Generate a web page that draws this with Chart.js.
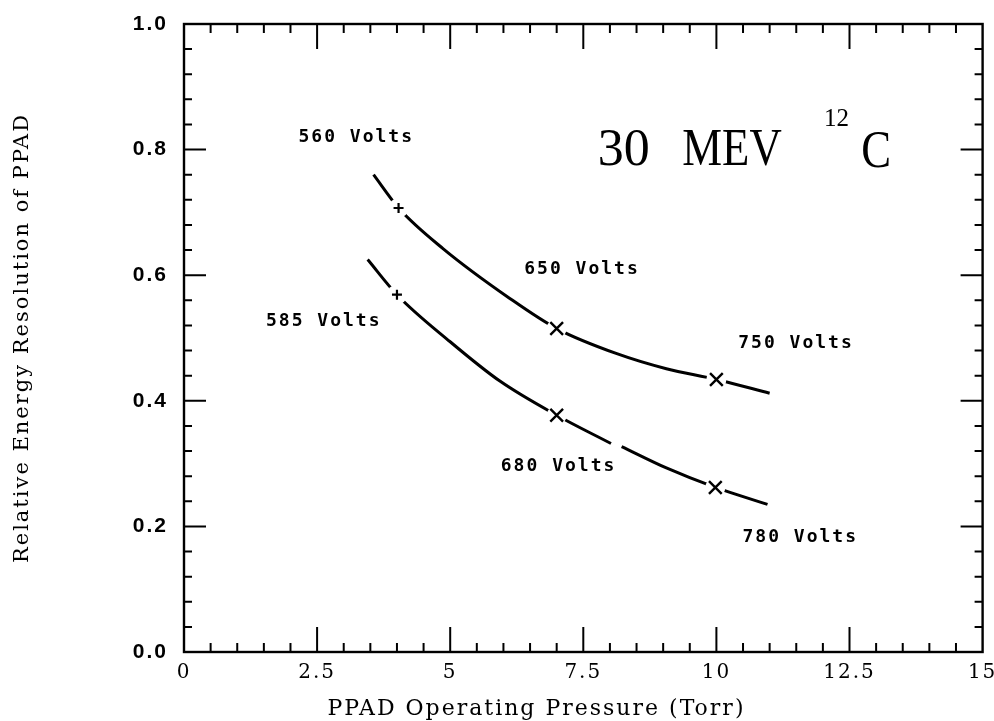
<!DOCTYPE html>
<html>
<head>
<meta charset="utf-8">
<script src="https://cdn.jsdelivr.net/npm/chart.js@4.4.0/dist/chart.umd.min.js"></script>
<style>
  html, body { margin: 0; padding: 0; background: #fff; }
</style>
</head>
<body>
<canvas id="myChart" width="994" height="721"></canvas>
<script>
// DATA ----------------------------------------
// upper curve (560 -> 650 -> 750 volts)
const upperX = [3.56, 4.03, 4.87, 6.12, 7.0, 8.13, 9.06, 10.0, 11.0];
const upperY = [0.760, 0.707, 0.642, 0.563, 0.515, 0.475, 0.451, 0.434, 0.412];
// lower curve (585 -> 680 -> 780 volts), null = break in the pen line
const lowerX = [3.45, 4.0, 5.0, 5.94, 7.0, 8.02, 8.12, 8.22, 9.06, 9.98, 10.96];
const lowerY = [0.625, 0.569, 0.494, 0.431, 0.377, 0.332, null, 0.327, 0.293, 0.262, 0.235];

// measured points
const plusX = [4.03, 4.0];             // "+" marks
const plusY = [0.707, 0.569];
const crossX = [7.0, 10.0, 7.0, 9.98]; // "x" marks
const crossY = [0.515, 0.434, 0.377, 0.262];

// voltage notes
const noteText = ['560 Volts', '585 Volts', '650 Volts', '750 Volts', '680 Volts', '780 Volts'];
const noteX = [2.15, 1.54, 6.39, 10.41, 5.95, 10.49];
const noteY = [0.820, 0.526, 0.610, 0.492, 0.296, 0.183];

const xTicks = [0, 2.5, 5, 7.5, 10, 12.5, 15];
const yTicks = [0.0, 0.2, 0.4, 0.6, 0.8, 1.0];
const xTitle = 'PPAD Operating Pressure (Torr)';
const yTitle = 'Relative Energy Resolution of PPAD';

function pts(xs, ys) {
    const out = [];
    for (var i = 0; i < xs.length; i++) out.push({x: xs[i], y: ys[i]});
    return out;
}
const allMarkX = plusX.concat(crossX);
const allMarkY = plusY.concat(crossY);

// PLUGINS ----------------------------------------
// wider plotter-style spacing for the axis texts, off again for the data layer
const spacingPlugin = {
    id: 'spacing',
    beforeDraw(chart) { chart.ctx.letterSpacing = '2px'; },
    beforeDatasetsDraw(chart) { chart.ctx.letterSpacing = '0px'; }
};

// frame with inward ticks on all four sides, plus the x title (sits left of centre)
const framePlugin = {
    id: 'frame',
    afterDraw(chart) {
        const c = chart.ctx, a = chart.chartArea;
        const xs = chart.scales.x, ys = chart.scales.y;
        c.save();
        c.strokeStyle = '#000';
        c.lineWidth = 2.4;
        c.strokeRect(a.left, a.top, a.right - a.left, a.bottom - a.top);
        c.lineWidth = 2;
        c.beginPath();
        for (var i = 1; i < 30; i++) {
            const px = xs.getPixelForValue(i * 0.5);
            const len = (i % 5 === 0) ? 25 : 9;
            c.moveTo(px, a.bottom); c.lineTo(px, a.bottom - len);
            c.moveTo(px, a.top); c.lineTo(px, a.top + len);
        }
        for (var j = 1; j < 25; j++) {
            const py = ys.getPixelForValue(j * 0.04);
            const len = (j % 5 === 0) ? 22 : 8;
            c.moveTo(a.left, py); c.lineTo(a.left + len, py);
            c.moveTo(a.right, py); c.lineTo(a.right - len, py);
        }
        c.stroke();

        c.fillStyle = '#000';
        c.font = '22px "DejaVu Serif"';
        c.letterSpacing = '2px';
        c.textAlign = 'center';
        c.textBaseline = 'middle';
        c.fillText(xTitle, xs.getPixelForValue(6.62), xs.bottom - 12);
        c.restore();
    }
};

// voltage notes and the beam label
const notePlugin = {
    id: 'notes',
    afterDatasetsDraw(chart) {
        const c = chart.ctx;
        const xs = chart.scales.x, ys = chart.scales.y;
        c.save();
        c.fillStyle = '#000';
        c.textBaseline = 'middle';
        c.textAlign = 'left';
        c.font = 'bold 18px "DejaVu Sans Mono"';
        c.letterSpacing = '2px';
        for (var i = 0; i < noteText.length; i++) {
            c.fillText(noteText[i], xs.getPixelForValue(noteX[i]), ys.getPixelForValue(noteY[i]));
        }
        c.textBaseline = 'alphabetic';
        c.letterSpacing = '0px';
        c.font = '52px "Liberation Serif"';
        c.fillText('30', xs.getPixelForValue(7.77), ys.getPixelForValue(0.775));
        // narrower capitals, as in the plotter font
        const drawNarrow = (txt, xv, yv) => {
            c.save();
            c.translate(xs.getPixelForValue(xv), ys.getPixelForValue(yv));
            c.scale(0.86, 1);
            c.fillText(txt, 0, 0);
            c.restore();
        };
        drawNarrow('MEV', 9.36, 0.775);
        drawNarrow('C', 12.72, 0.772);
        c.font = '25px "Liberation Serif"';
        c.fillText('12', xs.getPixelForValue(12.02), ys.getPixelForValue(0.838));
        c.restore();
    }
};

// CHART ----------------------------------------
const ctx = document.getElementById('myChart');
const config = {
    type: 'scatter',
    data: {
        datasets: [{
            label: 'plus',
            data: pts(plusX, plusY),
            showLine: false,
            pointStyle: 'cross',
            radius: 5,
            borderColor: '#000',
            borderWidth: 2.2,
            order: 0
        }, {
            label: 'cross',
            data: pts(crossX, crossY),
            showLine: false,
            pointStyle: 'crossRot',
            radius: 9,
            borderColor: '#000',
            borderWidth: 2.4,
            order: 0
        }, {
            label: 'gap',
            data: pts(allMarkX, allMarkY),
            showLine: false,
            pointStyle: 'circle',
            radius: 10,
            backgroundColor: '#fff',
            borderWidth: 0,
            order: 1
        }, {
            label: 'upper',
            data: pts(upperX, upperY),
            showLine: true,
            borderColor: '#000',
            borderWidth: 3,
            radius: 0,
            cubicInterpolationMode: 'monotone',
            order: 2
        }, {
            label: 'lower',
            data: pts(lowerX, lowerY),
            showLine: true,
            spanGaps: false,
            borderColor: '#000',
            borderWidth: 3,
            radius: 0,
            cubicInterpolationMode: 'monotone',
            order: 2
        }]
    },
    options: {
        responsive: false,
        animation: false,
        devicePixelRatio: 1,
        layout: { padding: { top: 24, right: 10, left: 0, bottom: 0 } },
        plugins: {
            legend: { display: false },
            tooltip: { enabled: false }
        },
        scales: {
            x: {
                type: 'linear',
                min: 0, max: 15,
                afterBuildTicks(s) { s.ticks = xTicks.map(v => ({value: v})); },
                afterFit(s) { s.height = 69; s.paddingLeft = 0; s.paddingRight = 0; },
                grid: { display: false, drawTicks: false },
                border: { display: false },
                ticks: {
                    padding: 9,
                    color: '#000',
                    font: { family: '"DejaVu Serif"', size: 20 },
                    callback: v => String(v)
                },
                title: { display: false }
            },
            y: {
                type: 'linear',
                min: 0, max: 1,
                afterBuildTicks(s) { s.ticks = yTicks.map(v => ({value: v})); },
                afterFit(s) { s.width = 184; s.paddingTop = 0; s.paddingBottom = 0; },
                grid: { display: false, drawTicks: false },
                border: { display: false },
                ticks: {
                    padding: 16,
                    color: '#000',
                    font: { family: '"Liberation Sans"', size: 21, weight: 'bold' },
                    callback: v => v.toFixed(1)
                },
                title: {
                    display: true,
                    text: yTitle,
                    color: '#000',
                    font: { family: '"DejaVu Serif"', size: 21 },
                    padding: { top: 10, bottom: 10 }
                }
            }
        }
    },
    plugins: [spacingPlugin, framePlugin, notePlugin]
};

const chart = new Chart(ctx, config);
</script>
</body>
</html>
